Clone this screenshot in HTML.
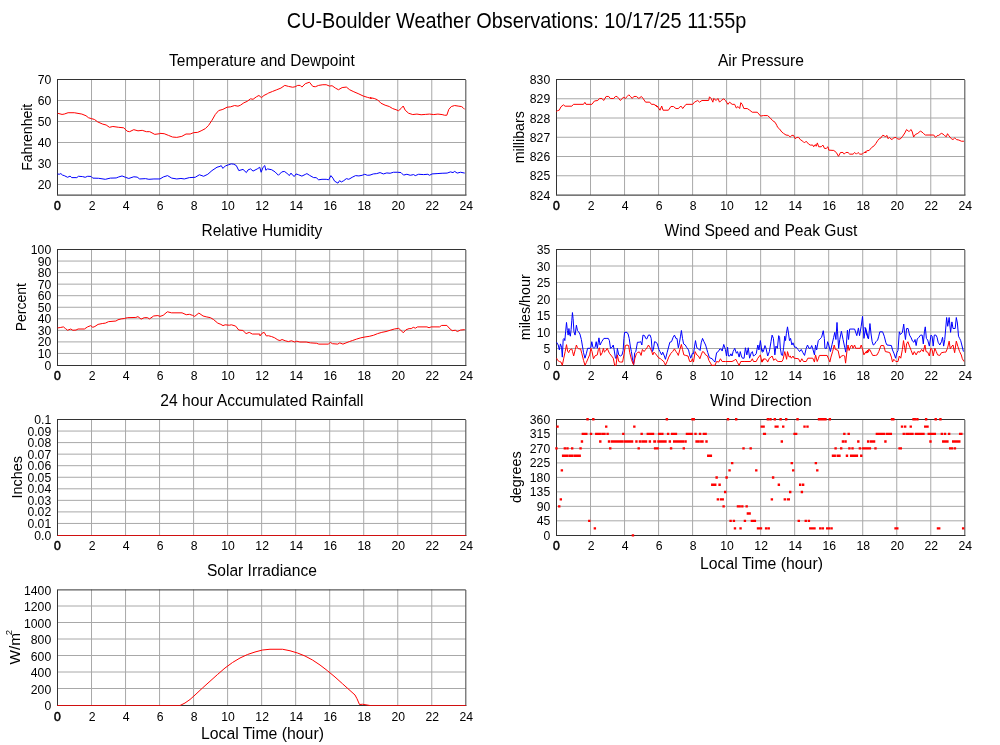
<!DOCTYPE html>
<html><head><meta charset="utf-8"><title>CU-Boulder Weather Observations</title>
<style>
html,body{margin:0;padding:0;background:#fff;}
svg{display:block;will-change:transform;}
text{font-family:"Liberation Sans",Arial,Helvetica,sans-serif;fill:#000;}
.t{font-size:12.2px;}
.st{font-size:15.3px;}
.yl{font-size:15.3px;}
.mt{font-size:19.8px;}
</style></head><body>
<svg width="1000" height="745" viewBox="0 0 1000 745">
<rect width="1000" height="745" fill="#fff"/>
<text transform="translate(516.6 27.6) scale(1 1.16)" text-anchor="middle" class="mt" textLength="459.6" lengthAdjust="spacingAndGlyphs">CU-Boulder Weather Observations: 10/17/25 11:55p</text>
<path d="M91.53 79.5V195M125.55 79.5V195M159.57 79.5V195M193.6 79.5V195M227.62 79.5V195M261.65 79.5V195M295.67 79.5V195M329.7 79.5V195M363.72 79.5V195M397.75 79.5V195M431.77 79.5V195M57.5 184.5H465.8M57.5 163.5H465.8M57.5 142.5H465.8M57.5 121.5H465.8M57.5 100.5H465.8" stroke="#a8a8a8" stroke-width="1" fill="none"/>
<path d="M57 79.5H465.8M57.5 79.5V195.15" stroke="#333" stroke-width="1" fill="none"/>
<path d="M57 195.15H466.5" stroke="#4a4a4a" stroke-width="1.2" fill="none"/>
<path d="M465.8 80V195" stroke="#555" stroke-width="1.1" fill="none"/>
<text x="51.2" y="189" text-anchor="end" class="t">20</text>
<text x="51.2" y="168" text-anchor="end" class="t">30</text>
<text x="51.2" y="147" text-anchor="end" class="t">40</text>
<text x="51.2" y="126" text-anchor="end" class="t">50</text>
<text x="51.2" y="105" text-anchor="end" class="t">60</text>
<text x="51.2" y="84" text-anchor="end" class="t">70</text>
<text x="57.4" y="210.3" text-anchor="middle" class="t" stroke="#000" stroke-width="0.5">0</text>
<text x="92.03" y="210.3" text-anchor="middle" class="t">2</text>
<text x="126.05" y="210.3" text-anchor="middle" class="t">4</text>
<text x="160.07" y="210.3" text-anchor="middle" class="t">6</text>
<text x="194.1" y="210.3" text-anchor="middle" class="t">8</text>
<text x="228.12" y="210.3" text-anchor="middle" class="t">10</text>
<text x="262.15" y="210.3" text-anchor="middle" class="t">12</text>
<text x="296.17" y="210.3" text-anchor="middle" class="t">14</text>
<text x="330.2" y="210.3" text-anchor="middle" class="t">16</text>
<text x="364.22" y="210.3" text-anchor="middle" class="t">18</text>
<text x="398.25" y="210.3" text-anchor="middle" class="t">20</text>
<text x="432.27" y="210.3" text-anchor="middle" class="t">22</text>
<text x="466.3" y="210.3" text-anchor="middle" class="t">24</text>
<text transform="translate(261.9 66.1) scale(1 1.08)" text-anchor="middle" class="st" textLength="185.6" lengthAdjust="spacingAndGlyphs">Temperature and Dewpoint</text>
<text transform="translate(31.6 137.25) rotate(-90)" text-anchor="middle" class="yl" textLength="67" lengthAdjust="spacingAndGlyphs">Fahrenheit</text>
<path d="M57.52 113.23 L62.04 114.41 L64.22 114.07 L68.08 112.73 L74.28 112.73 L81.83 114.07 L86.02 115.75 L88.54 117.76 L91.39 118.6 L94.41 119.44 L97.76 121.95 L102.79 124.13 L106.14 124.97 L109.5 127.32 L112.85 126.48 L118.72 127.32 L123.75 127.82 L127.1 131.17 L129.62 131.68 L133.81 129.66 L138 130.84 L142.2 130.34 L146.39 131.68 L149.74 131.68 L154.77 134.36 L159.8 133.69 L160 133.35 L164.19 133.69 L168.38 135.37 L172.58 137.04 L176.77 137.38 L181.8 136.37 L185.99 134.02 L190.18 134.02 L193.54 132.68 L197.73 132.35 L201.08 130.84 L205.27 128.66 L208.63 125.3 L211.98 120.27 L215.34 114.41 L218.69 110.55 L222.88 109.38 L227.07 107.2 L230.43 106.86 L234.62 105.52 L237.97 106.19 L240.49 105.18 L243.84 102.84 L247.2 101.33 L250.55 98.81 L253.06 99.31 L256.42 96.8 L258.93 95.46 L261.45 97.64 L263.96 95.46 L267.32 93.78 L268.35 93.11 L272.55 91.43 L276.74 89.76 L280.93 88.08 L284.79 85.4 L288.48 86.4 L292.67 87.24 L295.18 86.74 L297.7 85.4 L300.21 85.4 L301.89 87.07 L305.24 83.72 L309.44 82.21 L312.79 86.4 L315.3 86.74 L318.66 85.4 L322.85 84.73 L326.2 84.73 L329.56 86.07 L332.07 85.73 L335.43 88.08 L338.45 89.76 L342.13 87.58 L346.33 87.07 L349.68 89.76 L353.87 91.77 L358.9 93.95 L363.09 95.96 L367.29 97.3 L371.48 98.48 L370 97.64 L374.19 98.48 L377.55 99.82 L380.9 103.17 L385.09 105.18 L389.28 106.52 L392.64 108.54 L395.99 109.71 L398.51 110.72 L401.02 108.54 L403.2 106.02 L405.21 110.21 L408.57 113.23 L412.76 114.57 L416.95 114.07 L421.14 114.74 L425.34 114.41 L429.53 114.07 L433.72 114.57 L437.91 114.07 L442.1 114.57 L444.62 115.24 L446.8 115.24 L448.81 109.38 L451.33 106.52 L454.68 105.52 L458.87 106.19 L461.39 106.52 L463.06 107.7 L464.74 109.38" stroke="#f00" stroke-width="1.0" fill="none" stroke-linejoin="round"/>
<path d="M57.52 173.93 L59.19 174.27 L60.87 173.6 L62.55 175.11 L64.22 175.61 L67.58 177.29 L70.09 176.11 L71.77 177.62 L76.8 177.62 L78.48 176.28 L82.67 176.62 L85.18 177.29 L87.7 176.28 L91.05 176.45 L92.73 178.12 L98.6 178.29 L105.3 179.3 L110.34 178.12 L116.2 177.96 L118.72 176.95 L122.07 175.95 L125.43 177.29 L128.78 178.46 L133.81 176.78 L137.16 177.12 L139.68 178.96 L145.55 178.63 L148.9 179.3 L153.93 178.96 L158.96 178.96 L160 178.96 L163.35 176.95 L167.55 175.61 L171.74 178.12 L176.77 178.96 L180.96 178.46 L184.31 178.96 L189.34 177.62 L195.21 177.29 L199.41 174.77 L203.6 176.28 L207.79 174.27 L211.98 170.58 L217.01 167.23 L220.03 166.39 L221.2 165.55 L222.88 168.4 L225.4 165.88 L228.75 164.71 L231.27 163.87 L233.78 164.21 L236.3 165.55 L238.81 170.58 L243 169.41 L246.36 172.59 L248.03 169.91 L250.55 168.9 L253.06 171.08 L257.26 168.9 L259.77 167.23 L261.11 172.26 L263.12 167.23 L264.8 165.55 L265.84 170.24 L267.52 168.9 L271.71 169.74 L275.06 171.92 L278.41 175.27 L281.77 171.92 L284.28 171.42 L286.8 173.09 L289.31 175.61 L290.99 173.09 L292.67 175.27 L294.34 176.45 L296.02 173.93 L298.54 174.77 L301.89 176.11 L305.24 174.44 L306.92 173.6 L309.44 175.27 L313.63 177.62 L316.14 177.62 L318.66 179.8 L322.01 179.3 L326.2 179.3 L328.72 179.8 L330.9 175.61 L332.91 178.12 L334.59 181.14 L337.94 183.16 L339.62 180.64 L341.3 181.98 L343.81 180.64 L346.33 178.63 L348.84 179.3 L352.2 177.29 L355.55 175.61 L358.9 175.95 L362.26 175.27 L364.77 174.27 L367.29 175.27 L370 175.11 L373.35 173.93 L376.71 173.6 L380.06 172.59 L383.41 173.93 L386.77 172.93 L390.12 173.26 L393.48 172.26 L397.67 172.26 L401.02 172.59 L403.54 175.11 L406.89 174.27 L410.24 175.27 L413.6 174.6 L415.27 175.61 L418.63 174.27 L423.66 174.6 L427.85 174.27 L429.53 175.27 L432.04 173.93 L437.07 173.6 L442.1 173.26 L447.13 173.09 L450.49 171.92 L453 172.59 L454.68 171.42 L457.2 173.09 L460.55 172.26 L464.74 173.09" stroke="#00f" stroke-width="1.0" fill="none" stroke-linejoin="round"/>
<path d="M91.53 249.5V365M125.55 249.5V365M159.57 249.5V365M193.6 249.5V365M227.62 249.5V365M261.65 249.5V365M295.67 249.5V365M329.7 249.5V365M363.72 249.5V365M397.75 249.5V365M431.77 249.5V365M57.5 353.45H465.8M57.5 341.9H465.8M57.5 330.35H465.8M57.5 318.8H465.8M57.5 307.25H465.8M57.5 295.7H465.8M57.5 284.15H465.8M57.5 272.6H465.8M57.5 261.05H465.8" stroke="#a8a8a8" stroke-width="1" fill="none"/>
<path d="M57 249.5H465.8M57.5 249.5V365.5" stroke="#333" stroke-width="1" fill="none"/>
<path d="M57 365.5H466.5" stroke="#333" stroke-width="1" fill="none"/>
<path d="M465.8 250V365" stroke="#555" stroke-width="1.1" fill="none"/>
<text x="51.2" y="369.5" text-anchor="end" class="t">0</text>
<text x="51.2" y="357.95" text-anchor="end" class="t">10</text>
<text x="51.2" y="346.4" text-anchor="end" class="t">20</text>
<text x="51.2" y="334.85" text-anchor="end" class="t">30</text>
<text x="51.2" y="323.3" text-anchor="end" class="t">40</text>
<text x="51.2" y="311.75" text-anchor="end" class="t">50</text>
<text x="51.2" y="300.2" text-anchor="end" class="t">60</text>
<text x="51.2" y="288.65" text-anchor="end" class="t">70</text>
<text x="51.2" y="277.1" text-anchor="end" class="t">80</text>
<text x="51.2" y="265.55" text-anchor="end" class="t">90</text>
<text x="51.2" y="254" text-anchor="end" class="t">100</text>
<text x="57.4" y="380.3" text-anchor="middle" class="t" stroke="#000" stroke-width="0.5">0</text>
<text x="92.03" y="380.3" text-anchor="middle" class="t">2</text>
<text x="126.05" y="380.3" text-anchor="middle" class="t">4</text>
<text x="160.07" y="380.3" text-anchor="middle" class="t">6</text>
<text x="194.1" y="380.3" text-anchor="middle" class="t">8</text>
<text x="228.12" y="380.3" text-anchor="middle" class="t">10</text>
<text x="262.15" y="380.3" text-anchor="middle" class="t">12</text>
<text x="296.17" y="380.3" text-anchor="middle" class="t">14</text>
<text x="330.2" y="380.3" text-anchor="middle" class="t">16</text>
<text x="364.22" y="380.3" text-anchor="middle" class="t">18</text>
<text x="398.25" y="380.3" text-anchor="middle" class="t">20</text>
<text x="432.27" y="380.3" text-anchor="middle" class="t">22</text>
<text x="466.3" y="380.3" text-anchor="middle" class="t">24</text>
<text transform="translate(261.9 236.1) scale(1 1.08)" text-anchor="middle" class="st" textLength="120.8" lengthAdjust="spacingAndGlyphs">Relative Humidity</text>
<text transform="translate(26 307.25) rotate(-90)" text-anchor="middle" class="yl" textLength="48.2" lengthAdjust="spacingAndGlyphs">Percent</text>
<path d="M57.52 327.95 L60.25 327.53 L63.4 326.9 L65.5 328.58 L67.6 330.26 L70.75 329 L72.85 330.26 L76 330.05 L78.1 329 L84.4 329 L87.55 326.9 L90.7 325.64 L92.8 327.32 L94.9 326.48 L98.05 324.38 L102.25 323.54 L105.4 323.12 L108.55 321.65 L115.9 321.02 L118 319.76 L121.15 318.92 L124.3 318.5 L127.45 317.66 L135.85 317.45 L137.95 316.61 L141.1 319.13 L144.25 317.66 L147.4 317.66 L149.5 318.92 L153.7 315.98 L157.9 315.56 L160 316.4 L163.15 315.35 L167.35 311.78 L171.55 312.83 L182.05 312.83 L186.25 314.72 L189.4 314.3 L192.55 315.35 L194.65 316.4 L198.85 313.04 L203.05 315.98 L206.2 316.82 L210.4 317.66 L213.55 319.55 L217.75 323.12 L220.9 324.38 L223 325.64 L225.1 324.8 L229.3 325.22 L231.4 324.8 L235.6 326.06 L238.75 330.05 L242.95 330.47 L246.1 333.62 L249.25 332.36 L252.4 334.04 L259.75 334.04 L260 335.93 L262.1 333.2 L264.2 332.36 L266.3 335.93 L268.4 335.72 L271.55 336.56 L274.7 337.82 L277.85 339.92 L279.95 340.55 L282.05 339.5 L285.2 340.76 L288.35 341.6 L291.5 340.76 L294.65 342.02 L296.75 341.18 L299.9 342.02 L306.2 342.02 L310.4 342.86 L316.7 343.28 L318.8 344.12 L328.25 344.12 L330.35 342.44 L332.45 343.7 L337.7 344.12 L339.8 342.86 L342.95 344.12 L345.05 343.28 L349.25 341.6 L352.4 340.55 L356.6 339.08 L360.8 337.82 L365 336.98 L369.2 336.35 L373.4 335.3 L377.6 333.62 L381.8 332.36 L386 331.52 L390.2 330.26 L394.4 329 L398.6 328.37 L400.7 330.05 L403.22 332.78 L405.95 329.84 L409.1 328.58 L411.2 328.58 L413.3 327.32 L415.4 328.16 L417.5 326.9 L426.95 326.9 L429.05 327.74 L431.15 326.9 L439.55 326.9 L441.65 325.43 L446.9 325.43 L449 327.95 L452.15 330.68 L455.3 330.26 L457.4 331.52 L460.55 330.05 L464.75 329.63" stroke="#f00" stroke-width="1.0" fill="none" stroke-linejoin="round"/>
<path d="M91.53 419.5V535M125.55 419.5V535M159.57 419.5V535M193.6 419.5V535M227.62 419.5V535M261.65 419.5V535M295.67 419.5V535M329.7 419.5V535M363.72 419.5V535M397.75 419.5V535M431.77 419.5V535M57.5 523.45H465.8M57.5 511.9H465.8M57.5 500.35H465.8M57.5 488.8H465.8M57.5 477.25H465.8M57.5 465.7H465.8M57.5 454.15H465.8M57.5 442.6H465.8M57.5 431.05H465.8" stroke="#a8a8a8" stroke-width="1" fill="none"/>
<path d="M57 419.5H465.8M57.5 419.5V535.5" stroke="#333" stroke-width="1" fill="none"/>
<path d="M57 535.5H466.5" stroke="#333" stroke-width="1" fill="none"/>
<path d="M465.8 420V535" stroke="#555" stroke-width="1.1" fill="none"/>
<text x="51.2" y="539.5" text-anchor="end" class="t">0.0</text>
<text x="51.2" y="527.95" text-anchor="end" class="t">0.01</text>
<text x="51.2" y="516.4" text-anchor="end" class="t">0.02</text>
<text x="51.2" y="504.85" text-anchor="end" class="t">0.03</text>
<text x="51.2" y="493.3" text-anchor="end" class="t">0.04</text>
<text x="51.2" y="481.75" text-anchor="end" class="t">0.05</text>
<text x="51.2" y="470.2" text-anchor="end" class="t">0.06</text>
<text x="51.2" y="458.65" text-anchor="end" class="t">0.07</text>
<text x="51.2" y="447.1" text-anchor="end" class="t">0.08</text>
<text x="51.2" y="435.55" text-anchor="end" class="t">0.09</text>
<text x="51.2" y="424" text-anchor="end" class="t">0.1</text>
<text x="57.4" y="550.3" text-anchor="middle" class="t" stroke="#000" stroke-width="0.5">0</text>
<text x="92.03" y="550.3" text-anchor="middle" class="t">2</text>
<text x="126.05" y="550.3" text-anchor="middle" class="t">4</text>
<text x="160.07" y="550.3" text-anchor="middle" class="t">6</text>
<text x="194.1" y="550.3" text-anchor="middle" class="t">8</text>
<text x="228.12" y="550.3" text-anchor="middle" class="t">10</text>
<text x="262.15" y="550.3" text-anchor="middle" class="t">12</text>
<text x="296.17" y="550.3" text-anchor="middle" class="t">14</text>
<text x="330.2" y="550.3" text-anchor="middle" class="t">16</text>
<text x="364.22" y="550.3" text-anchor="middle" class="t">18</text>
<text x="398.25" y="550.3" text-anchor="middle" class="t">20</text>
<text x="432.27" y="550.3" text-anchor="middle" class="t">22</text>
<text x="466.3" y="550.3" text-anchor="middle" class="t">24</text>
<text transform="translate(261.9 406.1) scale(1 1.08)" text-anchor="middle" class="st" textLength="203.2" lengthAdjust="spacingAndGlyphs">24 hour Accumulated Rainfall</text>
<text transform="translate(22.3 477.25) rotate(-90)" text-anchor="middle" class="yl" textLength="42.5" lengthAdjust="spacingAndGlyphs">Inches</text>
<path d="M57.5 535.5H465.8" stroke="#d01010" stroke-width="1"/>
<path d="M91.53 589.5V705M125.55 589.5V705M159.57 589.5V705M193.6 589.5V705M227.62 589.5V705M261.65 589.5V705M295.67 589.5V705M329.7 589.5V705M363.72 589.5V705M397.75 589.5V705M431.77 589.5V705M57.5 688.5H465.8M57.5 672H465.8M57.5 655.5H465.8M57.5 639H465.8M57.5 622.5H465.8M57.5 606H465.8" stroke="#a8a8a8" stroke-width="1" fill="none"/>
<path d="M57 589.9H465.8M57.5 589.9V705.5" stroke="#333" stroke-width="1" fill="none"/>
<path d="M57 705.5H466.5" stroke="#333" stroke-width="1" fill="none"/>
<path d="M465.8 590V705" stroke="#555" stroke-width="1.1" fill="none"/>
<text x="51.2" y="710.3" text-anchor="end" class="t">0</text>
<text x="51.2" y="693.8" text-anchor="end" class="t">200</text>
<text x="51.2" y="677.3" text-anchor="end" class="t">400</text>
<text x="51.2" y="660.8" text-anchor="end" class="t">600</text>
<text x="51.2" y="644.3" text-anchor="end" class="t">800</text>
<text x="51.2" y="627.8" text-anchor="end" class="t">1000</text>
<text x="51.2" y="611.3" text-anchor="end" class="t">1200</text>
<text x="51.2" y="594.8" text-anchor="end" class="t">1400</text>
<text x="57.4" y="721.3" text-anchor="middle" class="t" stroke="#000" stroke-width="0.5">0</text>
<text x="92.03" y="721.3" text-anchor="middle" class="t">2</text>
<text x="126.05" y="721.3" text-anchor="middle" class="t">4</text>
<text x="160.07" y="721.3" text-anchor="middle" class="t">6</text>
<text x="194.1" y="721.3" text-anchor="middle" class="t">8</text>
<text x="228.12" y="721.3" text-anchor="middle" class="t">10</text>
<text x="262.15" y="721.3" text-anchor="middle" class="t">12</text>
<text x="296.17" y="721.3" text-anchor="middle" class="t">14</text>
<text x="330.2" y="721.3" text-anchor="middle" class="t">16</text>
<text x="364.22" y="721.3" text-anchor="middle" class="t">18</text>
<text x="398.25" y="721.3" text-anchor="middle" class="t">20</text>
<text x="432.27" y="721.3" text-anchor="middle" class="t">22</text>
<text x="466.3" y="721.3" text-anchor="middle" class="t">24</text>
<text transform="translate(261.9 576.1) scale(1 1.08)" text-anchor="middle" class="st" textLength="110" lengthAdjust="spacingAndGlyphs">Solar Irradiance</text>
<text transform="translate(19.9 647.25) rotate(-90)" text-anchor="middle" class="yl">W/m<tspan dx="-2.2" dy="-8.2" font-size="9.6">2</tspan></text>
<text transform="translate(262.4 738.7) scale(1 1.08)" text-anchor="middle" class="st" textLength="123" lengthAdjust="spacingAndGlyphs">Local Time (hour)</text>
<path d="M57.5 705.5 L180 705.5 L185 703 L190 699.5 L195 695 L202.5 688 L210 681.25 L217.5 674.5 L225 668 L232.5 662.5 L240 658 L247.5 654.5 L255 652 L262.5 650 L270 649.25 L282.5 649.25 L290 650.75 L297.5 653 L305 656 L312.5 660 L320 665 L327.5 670.75 L335 677 L342.5 683.75 L350 690.5 L355 695 L357 698.75 L359.5 704.5 L362.5 704.25 L370 705.5 L465.5 705.5" stroke="#f00" stroke-width="1.0" fill="none" stroke-linejoin="round"/>
<path d="M57.5 705.5H180M370 705.5H465.8" stroke="#d01010" stroke-width="1"/>
<path d="M590.52 79.5V195M624.55 79.5V195M658.58 79.5V195M692.6 79.5V195M726.62 79.5V195M760.65 79.5V195M794.67 79.5V195M828.7 79.5V195M862.72 79.5V195M896.75 79.5V195M930.77 79.5V195M556.5 175.75H964.8M556.5 156.5H964.8M556.5 137.25H964.8M556.5 118H964.8M556.5 98.75H964.8" stroke="#a8a8a8" stroke-width="1" fill="none"/>
<path d="M556 79.5H964.8M556.5 79.5V195.15" stroke="#333" stroke-width="1" fill="none"/>
<path d="M556 195.15H965.5" stroke="#4a4a4a" stroke-width="1.2" fill="none"/>
<path d="M964.8 80V195" stroke="#555" stroke-width="1.1" fill="none"/>
<text x="550.2" y="199.5" text-anchor="end" class="t">824</text>
<text x="550.2" y="180.25" text-anchor="end" class="t">825</text>
<text x="550.2" y="161" text-anchor="end" class="t">826</text>
<text x="550.2" y="141.75" text-anchor="end" class="t">827</text>
<text x="550.2" y="122.5" text-anchor="end" class="t">828</text>
<text x="550.2" y="103.25" text-anchor="end" class="t">829</text>
<text x="550.2" y="84" text-anchor="end" class="t">830</text>
<text x="556.4" y="210.3" text-anchor="middle" class="t" stroke="#000" stroke-width="0.5">0</text>
<text x="591.02" y="210.3" text-anchor="middle" class="t">2</text>
<text x="625.05" y="210.3" text-anchor="middle" class="t">4</text>
<text x="659.08" y="210.3" text-anchor="middle" class="t">6</text>
<text x="693.1" y="210.3" text-anchor="middle" class="t">8</text>
<text x="727.12" y="210.3" text-anchor="middle" class="t">10</text>
<text x="761.15" y="210.3" text-anchor="middle" class="t">12</text>
<text x="795.17" y="210.3" text-anchor="middle" class="t">14</text>
<text x="829.2" y="210.3" text-anchor="middle" class="t">16</text>
<text x="863.22" y="210.3" text-anchor="middle" class="t">18</text>
<text x="897.25" y="210.3" text-anchor="middle" class="t">20</text>
<text x="931.27" y="210.3" text-anchor="middle" class="t">22</text>
<text x="965.3" y="210.3" text-anchor="middle" class="t">24</text>
<text transform="translate(760.9 66.1) scale(1 1.08)" text-anchor="middle" class="st" textLength="86" lengthAdjust="spacingAndGlyphs">Air Pressure</text>
<text transform="translate(524.2 137.25) rotate(-90)" text-anchor="middle" class="yl" textLength="52.2" lengthAdjust="spacingAndGlyphs">millibars</text>
<path d="M556.37 111.89 L557.55 110.55 L559.22 110.21 L560.9 106.86 L563.41 104.85 L565.09 106.19 L571.8 106.19 L573.48 104.34 L583.54 104.34 L584.88 102.33 L586.05 104.34 L591.92 104.34 L594.44 100.99 L597.79 100.49 L599.47 98.48 L601.98 98.48 L603.66 100.49 L606.17 96.46 L608.69 96.46 L610.37 98.48 L613.72 98.48 L615.4 96.46 L617.07 96.46 L618.75 98.48 L620.43 100.49 L622.1 98.48 L623.78 97.3 L625.46 98.48 L627.13 96.46 L628.81 94.79 L630.49 96.46 L632.16 98.48 L633.84 96.46 L636.36 96.46 L638.87 98.48 L641.39 96.46 L643.06 98.48 L645.58 102.16 L649.77 102.16 L651.45 104.34 L653.96 104.34 L656.48 106.19 L658.16 106.86 L655 105.18 L656.68 106.02 L658.35 107.7 L660.03 110.21 L661.71 106.02 L663.05 110.21 L668.41 110.21 L670.93 106.52 L673.45 106.52 L675.96 108.54 L678.48 108.54 L680.15 106.52 L681.49 106.52 L682.67 108.54 L686.02 104.34 L692.73 104.34 L694.41 102.16 L697.76 100.49 L699.44 102.16 L701.95 100.49 L708.66 100.49 L709.5 96.8 L711.17 98.48 L712.85 102.16 L713.69 98.48 L716.2 100.49 L717.88 98.48 L719.56 102.16 L721.23 100.49 L723.75 98.81 L725.43 100.49 L727.94 104.34 L729.62 102.16 L732.13 104.34 L734.65 104.34 L736.33 108.03 L738 106.52 L739.68 108.54 L740.85 102.67 L742.2 104.34 L743.87 108.54 L747.23 108.54 L749.74 110.21 L752.26 112.23 L757.29 112.23 L760.64 116.08 L763.35 115.58 L767.55 115.58 L770.06 117.76 L772.58 120.61 L775.09 122.29 L776.77 125.3 L777.61 127.32 L779.28 128.66 L781.8 132.01 L783.48 133.35 L785.99 135.03 L788.51 135.37 L790.18 137.04 L791.86 135.37 L793.54 135.37 L795.21 138.72 L796.89 137.38 L798.57 137.38 L800.24 139.56 L802.76 141.23 L804.44 142.91 L806.11 141.23 L808.63 144.09 L810.3 145.09 L812.82 145.09 L813.66 146.77 L815.34 144.59 L816.17 146.27 L817.35 142.91 L818.69 146.77 L821.2 146.77 L822.88 145.09 L824.56 148.45 L826.23 148.45 L827.91 146.77 L828.75 150.12 L833.78 150.46 L836.3 152.47 L838.48 156.33 L840.49 152.47 L843 152.47 L844.18 154.15 L845.85 152.47 L848.03 152.47 L849.71 154.15 L853.06 154.15 L854.74 152.47 L856.42 154.15 L858.09 152.47 L859.77 154.15 L862.29 154.15 L863.96 152.47 L866.48 152.13 L865 152.47 L866.68 150.79 L869.19 150.46 L871.71 147.44 L874.22 145.76 L875.9 143.41 L877.58 140.73 L879.25 138.72 L880.93 137.88 L882.61 135.37 L884.28 135.7 L885.46 137.04 L886.8 135.37 L888.14 138.72 L889.31 137.38 L890.99 139.05 L892.16 139.56 L893.51 137.88 L896.02 137.38 L897.7 139.05 L900.21 139.05 L902.73 136.2 L904.91 132.85 L906.59 129.5 L908.26 131.17 L909.44 131.17 L911.11 129.5 L912.29 132.01 L913.63 137.04 L915.3 134.53 L917.82 133.35 L920.34 131.17 L922.01 132.01 L923.69 133.69 L925.37 135.03 L933.75 135.03 L935.43 137.38 L937.1 135.7 L938.78 135.37 L941.3 133.35 L942.97 134.02 L944.65 135.7 L946.33 136.71 L947.5 133.69 L948.84 135.7 L951.36 138.72 L953.03 139.56 L954.71 137.88 L956.39 139.56 L958.9 140.06 L961.42 141.23 L963.93 141.23" stroke="#f00" stroke-width="1.0" fill="none" stroke-linejoin="round"/>
<path d="M590.52 249.5V365M624.55 249.5V365M658.58 249.5V365M692.6 249.5V365M726.62 249.5V365M760.65 249.5V365M794.67 249.5V365M828.7 249.5V365M862.72 249.5V365M896.75 249.5V365M930.77 249.5V365M556.5 348.5H964.8M556.5 332H964.8M556.5 315.5H964.8M556.5 299H964.8M556.5 282.5H964.8M556.5 266H964.8" stroke="#a8a8a8" stroke-width="1" fill="none"/>
<path d="M556 249.5H964.8M556.5 249.5V365.5" stroke="#333" stroke-width="1" fill="none"/>
<path d="M556 365.5H965.5" stroke="#333" stroke-width="1" fill="none"/>
<path d="M964.8 250V365" stroke="#555" stroke-width="1.1" fill="none"/>
<text x="550.2" y="369.5" text-anchor="end" class="t">0</text>
<text x="550.2" y="353" text-anchor="end" class="t">5</text>
<text x="550.2" y="336.5" text-anchor="end" class="t">10</text>
<text x="550.2" y="320" text-anchor="end" class="t">15</text>
<text x="550.2" y="303.5" text-anchor="end" class="t">20</text>
<text x="550.2" y="287" text-anchor="end" class="t">25</text>
<text x="550.2" y="270.5" text-anchor="end" class="t">30</text>
<text x="550.2" y="254" text-anchor="end" class="t">35</text>
<text x="556.4" y="380.3" text-anchor="middle" class="t" stroke="#000" stroke-width="0.5">0</text>
<text x="591.02" y="380.3" text-anchor="middle" class="t">2</text>
<text x="625.05" y="380.3" text-anchor="middle" class="t">4</text>
<text x="659.08" y="380.3" text-anchor="middle" class="t">6</text>
<text x="693.1" y="380.3" text-anchor="middle" class="t">8</text>
<text x="727.12" y="380.3" text-anchor="middle" class="t">10</text>
<text x="761.15" y="380.3" text-anchor="middle" class="t">12</text>
<text x="795.17" y="380.3" text-anchor="middle" class="t">14</text>
<text x="829.2" y="380.3" text-anchor="middle" class="t">16</text>
<text x="863.22" y="380.3" text-anchor="middle" class="t">18</text>
<text x="897.25" y="380.3" text-anchor="middle" class="t">20</text>
<text x="931.27" y="380.3" text-anchor="middle" class="t">22</text>
<text x="965.3" y="380.3" text-anchor="middle" class="t">24</text>
<text transform="translate(760.9 236.1) scale(1 1.08)" text-anchor="middle" class="st" textLength="192.9" lengthAdjust="spacingAndGlyphs">Wind Speed and Peak Gust</text>
<text transform="translate(530.2 307.25) rotate(-90)" text-anchor="middle" class="yl" textLength="66.1" lengthAdjust="spacingAndGlyphs">miles/hour</text>
<path d="M556.6 342.25 L558.25 345 L559.35 349.95 L560.45 343.9 L561.55 347.2 L562.32 357.1 L563.2 339.5 L564.08 338.4 L564.85 340.6 L565.62 331.8 L566.5 322.45 L567.38 330.7 L568.15 335.1 L568.92 328.5 L569.58 334 L570.35 336.2 L571.12 329.6 L571.78 320.8 L572.44 312.55 L573.1 318.6 L573.98 331.8 L575.08 335.1 L576.4 325.2 L577.5 330.7 L578.6 331.8 L579.92 334 L581.35 339.5 L582.45 346.1 L583.55 352.7 L584.98 358.2 L586.3 353.8 L587.62 348.3 L590.15 348.3 L590.92 347.2 L591.8 341.7 L592.9 347.2 L594 348.3 L595.1 347.2 L596.2 341.7 L597.3 348.3 L598.18 342.8 L598.95 337.85 L600.05 345 L601.7 341.7 L603.9 338.4 L606.1 338.4 L608.3 338.4 L609.4 340.6 L610.5 348.3 L612.15 347.2 L613.25 345 L614.35 351.05 L615.45 358.2 L616.55 358.2 L617.32 348.3 L618.75 354.9 L620.4 356 L622.05 354.9 L623.15 350.5 L623.92 338.4 L624.58 332.35 L627 332.35 L628.1 334 L629.2 338.4 L630.3 346.1 L631.4 351.6 L632.72 360.4 L633.6 364.8 L634.7 352.7 L635.8 351.6 L637.45 342.25 L639.1 342.25 L640.75 341.7 L641.85 345 L642.95 335.1 L644.6 335.65 L645.7 338.4 L646.8 338.95 L648.45 335.1 L650.1 335.1 L651.2 338.4 L652.3 351.6 L653.4 349.4 L654.5 341.7 L656.15 342.25 L657.25 343.9 L658.9 349.4 L659.95 351.6 L661.6 354.9 L662.7 352.15 L664.35 356 L665.45 359.3 L667.1 352.7 L669.85 342.25 L671.5 341.7 L673.15 337.3 L674.47 335.1 L675.9 338.4 L677 338.4 L678.32 347.75 L679.42 342.8 L680.52 336.2 L681.4 330.48 L682.5 338.4 L683.6 343.9 L685.25 345 L686.9 347.75 L688.55 349.95 L689.65 354.9 L690.75 358.2 L692.4 353.25 L693.5 353.8 L694.6 346.1 L695.48 340.6 L696.8 347.75 L698.45 348.85 L700.1 350.5 L701.2 342.8 L702.52 338.4 L703.95 341.7 L705.6 345 L707.8 352.7 L709.45 357.65 L712.2 358.75 L713.3 360.4 L714.95 362.05 L716.6 352.7 L718.25 351.6 L719.9 348.85 L721.55 349.4 L722.1 351.05 L723.75 344.45 L725.4 349.4 L726.5 356 L727.6 347.2 L728.48 356 L729.8 356 L730.9 353.8 L732 356 L733.1 351.6 L734.75 348.3 L736.4 353.25 L737.5 351.6 L739.15 357.1 L740.25 351.6 L741.35 356 L742.45 358.2 L744.1 358.2 L745.42 347.75 L746.85 354.9 L748.28 347.75 L749.6 358.2 L751.25 352.7 L752.35 351.6 L753.45 356 L754.55 355.45 L756.2 353.8 L757.85 345 L758.95 349.95 L760.38 340.6 L761.7 349.95 L763.35 351.05 L761.1 348.3 L762.2 352.15 L763.3 351.6 L764.95 345.55 L766.05 348.3 L767.7 356 L769.35 351.6 L771 341.7 L772.1 335.1 L773.42 338.4 L774.85 354.9 L775.95 346.1 L777.38 348.3 L778.7 335.65 L779.58 337.3 L780.35 348.3 L781.45 354.9 L782.55 355.45 L783.65 347.2 L784.75 336.2 L785.52 340.6 L786.4 333.45 L787.5 326.85 L788.6 334 L789.48 340.6 L790.58 338.4 L791.9 345 L793 342.8 L794.65 347.2 L796.3 347.2 L797.95 349.4 L799.6 351.6 L801.25 349.4 L802.9 352.7 L804.55 355.45 L806.2 348.3 L807.52 345 L808.95 348.3 L810.6 348.3 L811.7 345.55 L812.8 348.85 L814.45 354.9 L815.55 345 L816.65 349.95 L818.3 340.6 L819.95 338.95 L821.6 337.3 L823.25 330.7 L824.35 338.4 L824.9 348.3 L826.55 348.3 L827.65 341.7 L828.75 345 L830.4 351.6 L832.05 344.45 L833.7 337.3 L834.8 332.35 L835.9 339.5 L837 322.45 L837.55 331.8 L838.65 348.3 L839.75 339.5 L841.4 331.25 L843.05 339.5 L844.7 347.2 L845.8 352.15 L847.45 330.15 L848.55 339.5 L849.65 329.05 L854.6 329.05 L856.8 335.65 L858.45 327.95 L859.55 335.65 L861.2 326.3 L862.52 316.4 L863.95 338.4 L865.6 327.95 L867.25 334.55 L868.35 338.4 L865 327.4 L866.1 332.9 L867.75 337.3 L868.52 338.95 L869.95 323.55 L871.05 334 L872.15 341.7 L873.25 345 L874.35 344.45 L876 341.7 L877.65 340.05 L878.75 336.2 L879.85 331.8 L882.6 331.8 L884.25 336.2 L885.9 342.8 L887 345 L891.4 345.55 L892.5 349.95 L894.15 353.8 L895.58 358.2 L896.9 352.7 L898 350.5 L899.32 331.8 L900.42 334.55 L902.4 332.35 L903.72 324.1 L904.6 332.9 L905.48 339.5 L906.58 328.5 L908.12 328.5 L909.55 335.1 L911.2 337.85 L912.52 341.15 L913.95 342.25 L915.05 339.5 L916.15 345.55 L917.25 338.95 L918.9 337.3 L920.55 335.1 L922.2 335.1 L923.3 343.9 L924.4 331.8 L925.28 326.85 L926.38 338.4 L927.7 340.05 L929.35 346.1 L931 335.1 L932.1 336.2 L933.2 346.1 L934.3 335.1 L935.95 335.1 L937.05 337.3 L938.15 342.25 L939.8 345 L941.45 341.7 L942.55 337.3 L943.65 346.1 L944.75 339.5 L946.18 323 L946.62 317.5 L947.72 326.3 L949.15 317.5 L950.58 332.35 L951.9 321.9 L953 328.5 L955.2 328.5 L956.3 317.5 L957.4 323 L958.5 336.2 L959.6 338.4 L960.7 340.6 L961.8 345 L963.45 351.6" stroke="#00f" stroke-width="1.0" fill="none" stroke-linejoin="round"/>
<path d="M556.6 358.2 L557.7 360.4 L559.35 361.5 L561 362.05 L562.32 365.35 L563.75 358.2 L565.18 351.6 L566.5 344.67 L567.6 351.05 L568.7 352.7 L569.8 349.95 L570.9 349.4 L571.78 348.85 L572.55 351.6 L573.65 356 L575.3 349.4 L576.4 345 L577.5 347.75 L578.6 348.85 L580.58 348.85 L581.9 353.8 L583.55 360.4 L584.98 365.35 L586.3 362.6 L587.95 358.75 L589.6 354.9 L590.92 348.3 L592.02 351.6 L593.45 358.75 L595.1 355.78 L597.3 354.9 L598.4 349.4 L599.5 347.75 L600.6 355.45 L602.25 352.7 L603.35 348.3 L604.45 352.15 L605.55 351.05 L607.2 348.3 L609.4 353.25 L611.6 356 L613.25 358.2 L614.68 365.35 L616 365.35 L617.32 354.9 L618.75 361.5 L620.4 362.05 L622.6 362.05 L623.92 354.9 L625.35 345.55 L627 345 L628.65 345.55 L629.75 352.7 L631.4 359.3 L632.72 363.15 L633.6 364.8 L634.92 358.2 L636.35 353.8 L638 352.15 L639.65 352.15 L641.08 355.45 L642.4 349.4 L644.05 351.6 L645.7 349.4 L647.35 347.2 L648.45 345 L650.1 347.75 L651.75 351.6 L652.85 354.9 L653.95 352.15 L655.6 353.8 L657.25 356 L658.9 358.2 L659.95 358.2 L661.6 359.85 L663.25 360.95 L664.35 362.6 L665.45 365.13 L667.1 361.5 L668.75 357.1 L670.95 353.25 L672.6 351.6 L674.47 348.85 L675.9 351.6 L677 352.7 L678.32 355.45 L679.75 349.95 L681.4 344.45 L682.5 349.4 L683.82 354.9 L685.8 355.45 L688 356 L689.65 361.5 L691.3 361.5 L692.4 358.75 L693.5 362.05 L695.15 351.6 L696.8 354.9 L698.45 356 L699.88 358.75 L701.2 354.9 L702.52 351.6 L703.95 352.15 L705.6 354.9 L707.58 356 L708.9 360.4 L710.55 363.15 L711.65 365.35 L714.95 365.35 L716.6 361.5 L718.8 362.05 L720.45 358.75 L722.1 361.5 L725.4 361.5 L732 361.5 L734.2 360.4 L735.85 359.3 L737.5 362.6 L739.15 365.35 L740.8 361.5 L744.1 361.5 L750.7 361.5 L752.35 358.75 L753.45 361.5 L756.2 361.5 L757.85 358.2 L760.38 354.9 L761.7 361.5 L763.9 358.75 L761.1 361.5 L762.2 362.05 L763.85 359.3 L764.95 358.75 L766.6 359.85 L767.7 362.05 L769.35 358.2 L771 357.1 L772.1 356 L773.75 360.4 L775.4 358.75 L777.05 360.95 L778.15 361.5 L782 361.5 L783.1 359.3 L784.75 351.6 L785.85 356 L786.62 359.3 L787.5 351.6 L789.15 357.1 L790.25 356 L791.35 358.2 L793 356 L794.1 358.2 L798.5 358.75 L800.15 362.05 L801.8 358.75 L803.45 361.5 L806.2 361.5 L807.85 358.2 L812.8 358.2 L814.45 362.05 L815.55 354.9 L817.2 361.5 L818.3 358.75 L819.4 355.45 L827.1 355.45 L828.75 359.3 L829.85 362.05 L830.95 357.1 L832.6 351.6 L834.25 345 L835.35 349.4 L837 349.95 L838.1 350.5 L839.75 358.2 L841.4 356 L843.6 355.45 L844.7 356 L845.58 363.15 L846.9 351.6 L848 345 L849.1 350.5 L850.75 346.1 L851.85 345 L852.95 348.3 L854.6 345 L855.7 348.3 L860.1 348.3 L861.2 345 L862.3 348.3 L863.95 354.9 L865.05 352.7 L867.25 352.15 L868.9 349.4 L865 352.7 L866.65 352.7 L868.3 352.15 L869.62 349.4 L871.05 352.15 L872.7 355.45 L875.45 355.45 L877.1 354.9 L878.75 351.6 L880.95 345.55 L883.7 345.55 L885.35 351.6 L888.1 352.15 L889.75 352.7 L891.4 357.1 L892.5 362.05 L893.82 359.3 L895.8 361.5 L898 361.5 L899.32 356 L900.75 358.2 L902.4 349.4 L903.5 340.6 L904.6 347.2 L905.48 352.7 L906.58 343.9 L907.9 341.7 L909 345 L911.2 350.5 L912.85 354.9 L914.28 351.6 L916.15 354.9 L917.8 351.6 L920 352.15 L921.65 349.4 L923.3 351.6 L924.95 345 L926.05 351.6 L927.7 352.15 L929.35 356 L930.78 348.3 L932.1 349.4 L933.2 356 L934.85 348.3 L936.28 351.6 L937.6 354.9 L939.8 355.45 L941.45 352.7 L944.2 352.15 L945.85 352.15 L947.5 348.3 L949.15 341.15 L950.25 348.85 L951.9 346.1 L953 345 L954.65 352.7 L956.3 341.15 L957.95 346.65 L959.6 351.6 L961.25 354.9 L962.35 358.75 L964 361.5" stroke="#f00" stroke-width="1.0" fill="none" stroke-linejoin="round"/>
<path d="M590.52 419.5V535M624.55 419.5V535M658.58 419.5V535M692.6 419.5V535M726.62 419.5V535M760.65 419.5V535M794.67 419.5V535M828.7 419.5V535M862.72 419.5V535M896.75 419.5V535M930.77 419.5V535M556.5 520.82H964.8M556.5 506.35H964.8M556.5 491.87H964.8M556.5 477.4H964.8M556.5 462.92H964.8M556.5 448.45H964.8M556.5 433.97H964.8" stroke="#a8a8a8" stroke-width="1" fill="none"/>
<path d="M556 419.5H964.8M556.5 419.5V535.5" stroke="#333" stroke-width="1" fill="none"/>
<path d="M556 535.5H965.5" stroke="#333" stroke-width="1" fill="none"/>
<path d="M964.8 420V535" stroke="#555" stroke-width="1.1" fill="none"/>
<text x="550.2" y="539.8" text-anchor="end" class="t">0</text>
<text x="550.2" y="525.32" text-anchor="end" class="t">45</text>
<text x="550.2" y="510.85" text-anchor="end" class="t">90</text>
<text x="550.2" y="496.37" text-anchor="end" class="t">135</text>
<text x="550.2" y="481.9" text-anchor="end" class="t">180</text>
<text x="550.2" y="467.42" text-anchor="end" class="t">225</text>
<text x="550.2" y="452.95" text-anchor="end" class="t">270</text>
<text x="550.2" y="438.47" text-anchor="end" class="t">315</text>
<text x="550.2" y="424" text-anchor="end" class="t">360</text>
<text x="556.4" y="550.3" text-anchor="middle" class="t" stroke="#000" stroke-width="0.5">0</text>
<text x="591.02" y="550.3" text-anchor="middle" class="t">2</text>
<text x="625.05" y="550.3" text-anchor="middle" class="t">4</text>
<text x="659.08" y="550.3" text-anchor="middle" class="t">6</text>
<text x="693.1" y="550.3" text-anchor="middle" class="t">8</text>
<text x="727.12" y="550.3" text-anchor="middle" class="t">10</text>
<text x="761.15" y="550.3" text-anchor="middle" class="t">12</text>
<text x="795.17" y="550.3" text-anchor="middle" class="t">14</text>
<text x="829.2" y="550.3" text-anchor="middle" class="t">16</text>
<text x="863.22" y="550.3" text-anchor="middle" class="t">18</text>
<text x="897.25" y="550.3" text-anchor="middle" class="t">20</text>
<text x="931.27" y="550.3" text-anchor="middle" class="t">22</text>
<text x="965.3" y="550.3" text-anchor="middle" class="t">24</text>
<text transform="translate(760.9 406.1) scale(1 1.08)" text-anchor="middle" class="st" textLength="101.7" lengthAdjust="spacingAndGlyphs">Wind Direction</text>
<text transform="translate(521.1 477.25) rotate(-90)" text-anchor="middle" class="yl" textLength="51.7" lengthAdjust="spacingAndGlyphs">degrees</text>
<text transform="translate(761.4 568.7) scale(1 1.08)" text-anchor="middle" class="st" textLength="123" lengthAdjust="spacingAndGlyphs">Local Time (hour)</text>
<path d="M586.34 418.05h2.4v2.4h-2.4zM592.1 418.05h2.4v2.4h-2.4zM556.31 425.39h2.4v2.4h-2.4zM605.02 425.39h2.4v2.4h-2.4zM633.13 425.39h2.4v2.4h-2.4zM581.63 432.72h2.4v2.4h-2.4zM583.37 432.72h2.4v2.4h-2.4zM585.12 432.72h2.4v2.4h-2.4zM589.83 432.72h2.4v2.4h-2.4zM595.07 432.72h2.4v2.4h-2.4zM596.82 432.72h2.4v2.4h-2.4zM598.56 432.72h2.4v2.4h-2.4zM601.18 432.72h2.4v2.4h-2.4zM603.28 432.72h2.4v2.4h-2.4zM606.42 432.72h2.4v2.4h-2.4zM622.13 432.72h2.4v2.4h-2.4zM640.47 432.72h2.4v2.4h-2.4zM646.58 432.72h2.4v2.4h-2.4zM648.32 432.72h2.4v2.4h-2.4zM650.07 432.72h2.4v2.4h-2.4zM651.82 432.72h2.4v2.4h-2.4zM657.93 432.72h2.4v2.4h-2.4zM580.75 440.23h2.4v2.4h-2.4zM599.09 440.23h2.4v2.4h-2.4zM607.82 440.23h2.4v2.4h-2.4zM610.78 440.23h2.4v2.4h-2.4zM612.53 440.23h2.4v2.4h-2.4zM614.28 440.23h2.4v2.4h-2.4zM616.02 440.23h2.4v2.4h-2.4zM617.77 440.23h2.4v2.4h-2.4zM619.51 440.23h2.4v2.4h-2.4zM621.26 440.23h2.4v2.4h-2.4zM623.88 440.23h2.4v2.4h-2.4zM625.63 440.23h2.4v2.4h-2.4zM627.37 440.23h2.4v2.4h-2.4zM629.12 440.23h2.4v2.4h-2.4zM630.86 440.23h2.4v2.4h-2.4zM635.23 440.23h2.4v2.4h-2.4zM638.72 440.23h2.4v2.4h-2.4zM641.34 440.23h2.4v2.4h-2.4zM643.09 440.23h2.4v2.4h-2.4zM644.83 440.23h2.4v2.4h-2.4zM648.67 440.23h2.4v2.4h-2.4zM653.21 440.23h2.4v2.4h-2.4zM657.4 440.23h2.4v2.4h-2.4zM555.26 447.21h2.4v2.4h-2.4zM563.64 447.21h2.4v2.4h-2.4zM566.26 447.21h2.4v2.4h-2.4zM570.97 447.21h2.4v2.4h-2.4zM579.36 447.21h2.4v2.4h-2.4zM609.04 447.21h2.4v2.4h-2.4zM637.5 447.21h2.4v2.4h-2.4zM653.91 447.21h2.4v2.4h-2.4zM655.66 447.21h2.4v2.4h-2.4zM561.9 454.55h2.4v2.4h-2.4zM564.17 454.55h2.4v2.4h-2.4zM566.26 454.55h2.4v2.4h-2.4zM568.88 454.55h2.4v2.4h-2.4zM570.63 454.55h2.4v2.4h-2.4zM573.24 454.55h2.4v2.4h-2.4zM574.99 454.55h2.4v2.4h-2.4zM576.74 454.55h2.4v2.4h-2.4zM578.48 454.55h2.4v2.4h-2.4zM560.67 469.21h2.4v2.4h-2.4zM559.63 498.2h2.4v2.4h-2.4zM558.05 505.18h2.4v2.4h-2.4zM588.09 519.67h2.4v2.4h-2.4zM593.67 527.18h2.4v2.4h-2.4zM631.74 534.17h2.4v2.4h-2.4zM665.67 418.05h2.4v2.4h-2.4zM691.34 418.05h2.4v2.4h-2.4zM692.56 418.05h2.4v2.4h-2.4zM726.78 418.05h2.4v2.4h-2.4zM734.99 418.05h2.4v2.4h-2.4zM760.66 425.39h2.4v2.4h-2.4zM762.4 425.39h2.4v2.4h-2.4zM658.69 432.72h2.4v2.4h-2.4zM661.13 432.72h2.4v2.4h-2.4zM666.9 432.72h2.4v2.4h-2.4zM670.91 432.72h2.4v2.4h-2.4zM672.66 432.72h2.4v2.4h-2.4zM674.75 432.72h2.4v2.4h-2.4zM685.75 432.72h2.4v2.4h-2.4zM687.5 432.72h2.4v2.4h-2.4zM689.24 432.72h2.4v2.4h-2.4zM690.47 432.72h2.4v2.4h-2.4zM694.31 432.72h2.4v2.4h-2.4zM698.85 432.72h2.4v2.4h-2.4zM702.69 432.72h2.4v2.4h-2.4zM704.43 432.72h2.4v2.4h-2.4zM762.93 432.72h2.4v2.4h-2.4zM653.8 440.23h2.4v2.4h-2.4zM657.29 440.23h2.4v2.4h-2.4zM659.04 440.23h2.4v2.4h-2.4zM660.78 440.23h2.4v2.4h-2.4zM662.53 440.23h2.4v2.4h-2.4zM664.28 440.23h2.4v2.4h-2.4zM668.64 440.23h2.4v2.4h-2.4zM673.01 440.23h2.4v2.4h-2.4zM674.75 440.23h2.4v2.4h-2.4zM676.5 440.23h2.4v2.4h-2.4zM678.24 440.23h2.4v2.4h-2.4zM679.99 440.23h2.4v2.4h-2.4zM681.74 440.23h2.4v2.4h-2.4zM684.36 440.23h2.4v2.4h-2.4zM695.36 440.23h2.4v2.4h-2.4zM697.45 440.23h2.4v2.4h-2.4zM700.07 440.23h2.4v2.4h-2.4zM701.29 440.23h2.4v2.4h-2.4zM705.31 440.23h2.4v2.4h-2.4zM654.67 447.21h2.4v2.4h-2.4zM656.42 447.21h2.4v2.4h-2.4zM669.86 447.21h2.4v2.4h-2.4zM682.61 447.21h2.4v2.4h-2.4zM742.32 447.21h2.4v2.4h-2.4zM749.48 447.21h2.4v2.4h-2.4zM707.05 454.55h2.4v2.4h-2.4zM708.28 454.55h2.4v2.4h-2.4zM709.67 454.55h2.4v2.4h-2.4zM730.97 461.88h2.4v2.4h-2.4zM728.36 469.21h2.4v2.4h-2.4zM755.07 469.21h2.4v2.4h-2.4zM715.43 476.37h2.4v2.4h-2.4zM725.39 476.37h2.4v2.4h-2.4zM711.07 483.53h2.4v2.4h-2.4zM712.82 483.53h2.4v2.4h-2.4zM714.04 483.53h2.4v2.4h-2.4zM718.4 483.53h2.4v2.4h-2.4zM723.99 490.86h2.4v2.4h-2.4zM716.66 498.2h2.4v2.4h-2.4zM719.8 498.2h2.4v2.4h-2.4zM721.55 498.2h2.4v2.4h-2.4zM722.42 505.18h2.4v2.4h-2.4zM736.74 505.18h2.4v2.4h-2.4zM738.48 505.18h2.4v2.4h-2.4zM741.1 505.18h2.4v2.4h-2.4zM745.47 505.18h2.4v2.4h-2.4zM746.69 512.34h2.4v2.4h-2.4zM748.43 512.34h2.4v2.4h-2.4zM729.4 519.67h2.4v2.4h-2.4zM732.72 519.67h2.4v2.4h-2.4zM743.72 519.67h2.4v2.4h-2.4zM750.7 519.67h2.4v2.4h-2.4zM752.45 519.67h2.4v2.4h-2.4zM753.67 519.67h2.4v2.4h-2.4zM733.77 527.18h2.4v2.4h-2.4zM739.36 527.18h2.4v2.4h-2.4zM756.82 527.18h2.4v2.4h-2.4zM758.56 527.18h2.4v2.4h-2.4zM759.78 527.18h2.4v2.4h-2.4zM766.66 418.05h2.4v2.4h-2.4zM769.28 418.05h2.4v2.4h-2.4zM773.64 418.05h2.4v2.4h-2.4zM779.4 418.05h2.4v2.4h-2.4zM784.99 418.05h2.4v2.4h-2.4zM796.34 418.05h2.4v2.4h-2.4zM817.82 418.05h2.4v2.4h-2.4zM819.91 418.05h2.4v2.4h-2.4zM822.01 418.05h2.4v2.4h-2.4zM824.28 418.05h2.4v2.4h-2.4zM828.64 418.05h2.4v2.4h-2.4zM760.55 425.39h2.4v2.4h-2.4zM762.29 425.39h2.4v2.4h-2.4zM774.51 425.39h2.4v2.4h-2.4zM776.26 425.39h2.4v2.4h-2.4zM782.02 425.39h2.4v2.4h-2.4zM803.32 425.39h2.4v2.4h-2.4zM806.29 425.39h2.4v2.4h-2.4zM763.69 432.72h2.4v2.4h-2.4zM793.37 432.72h2.4v2.4h-2.4zM794.94 432.72h2.4v2.4h-2.4zM843.13 432.72h2.4v2.4h-2.4zM847.5 432.72h2.4v2.4h-2.4zM780.63 440.23h2.4v2.4h-2.4zM841.74 440.23h2.4v2.4h-2.4zM844.36 440.23h2.4v2.4h-2.4zM857.1 440.23h2.4v2.4h-2.4zM867.05 440.23h2.4v2.4h-2.4zM834.4 447.21h2.4v2.4h-2.4zM839.99 447.21h2.4v2.4h-2.4zM848.2 447.21h2.4v2.4h-2.4zM851.34 447.21h2.4v2.4h-2.4zM858.67 447.21h2.4v2.4h-2.4zM861.82 447.21h2.4v2.4h-2.4zM863.56 447.21h2.4v2.4h-2.4zM865.31 447.21h2.4v2.4h-2.4zM867.93 447.21h2.4v2.4h-2.4zM831.78 454.55h2.4v2.4h-2.4zM833.53 454.55h2.4v2.4h-2.4zM836.5 454.55h2.4v2.4h-2.4zM838.24 454.55h2.4v2.4h-2.4zM845.75 454.55h2.4v2.4h-2.4zM849.94 454.55h2.4v2.4h-2.4zM852.21 454.55h2.4v2.4h-2.4zM853.96 454.55h2.4v2.4h-2.4zM855.7 454.55h2.4v2.4h-2.4zM860.07 454.55h2.4v2.4h-2.4zM790.58 461.88h2.4v2.4h-2.4zM814.67 461.88h2.4v2.4h-2.4zM791.97 469.21h2.4v2.4h-2.4zM816.07 469.21h2.4v2.4h-2.4zM771.9 476.37h2.4v2.4h-2.4zM777.66 483.53h2.4v2.4h-2.4zM798.96 483.53h2.4v2.4h-2.4zM801.93 483.53h2.4v2.4h-2.4zM789.01 490.86h2.4v2.4h-2.4zM800.7 490.86h2.4v2.4h-2.4zM770.67 498.2h2.4v2.4h-2.4zM783.59 498.2h2.4v2.4h-2.4zM786.74 498.2h2.4v2.4h-2.4zM787.61 498.2h2.4v2.4h-2.4zM797.56 519.67h2.4v2.4h-2.4zM804.55 519.67h2.4v2.4h-2.4zM807.69 519.67h2.4v2.4h-2.4zM759.67 527.18h2.4v2.4h-2.4zM764.91 527.18h2.4v2.4h-2.4zM767.53 527.18h2.4v2.4h-2.4zM809.09 527.18h2.4v2.4h-2.4zM810.31 527.18h2.4v2.4h-2.4zM812.05 527.18h2.4v2.4h-2.4zM813.28 527.18h2.4v2.4h-2.4zM819.04 527.18h2.4v2.4h-2.4zM821.66 527.18h2.4v2.4h-2.4zM826.02 527.18h2.4v2.4h-2.4zM827.77 527.18h2.4v2.4h-2.4zM830.39 527.18h2.4v2.4h-2.4zM890.86 418.05h2.4v2.4h-2.4zM892.09 418.05h2.4v2.4h-2.4zM912.34 418.05h2.4v2.4h-2.4zM913.56 418.05h2.4v2.4h-2.4zM916.18 418.05h2.4v2.4h-2.4zM924.91 418.05h2.4v2.4h-2.4zM934.51 418.05h2.4v2.4h-2.4zM939.23 418.05h2.4v2.4h-2.4zM900.82 425.39h2.4v2.4h-2.4zM903.96 425.39h2.4v2.4h-2.4zM909.55 425.39h2.4v2.4h-2.4zM924.04 425.39h2.4v2.4h-2.4zM926.31 425.39h2.4v2.4h-2.4zM875.67 432.72h2.4v2.4h-2.4zM877.42 432.72h2.4v2.4h-2.4zM879.17 432.72h2.4v2.4h-2.4zM880.91 432.72h2.4v2.4h-2.4zM882.66 432.72h2.4v2.4h-2.4zM885.63 432.72h2.4v2.4h-2.4zM887.37 432.72h2.4v2.4h-2.4zM889.64 432.72h2.4v2.4h-2.4zM902.56 432.72h2.4v2.4h-2.4zM905.36 432.72h2.4v2.4h-2.4zM907.1 432.72h2.4v2.4h-2.4zM909.55 432.72h2.4v2.4h-2.4zM911.29 432.72h2.4v2.4h-2.4zM914.78 432.72h2.4v2.4h-2.4zM916.53 432.72h2.4v2.4h-2.4zM918.28 432.72h2.4v2.4h-2.4zM920.02 432.72h2.4v2.4h-2.4zM922.29 432.72h2.4v2.4h-2.4zM927.53 432.72h2.4v2.4h-2.4zM929.8 432.72h2.4v2.4h-2.4zM931.55 432.72h2.4v2.4h-2.4zM933.64 432.72h2.4v2.4h-2.4zM940.63 432.72h2.4v2.4h-2.4zM943.77 432.72h2.4v2.4h-2.4zM947.96 432.72h2.4v2.4h-2.4zM958.96 432.72h2.4v2.4h-2.4zM960.18 432.72h2.4v2.4h-2.4zM866.94 440.23h2.4v2.4h-2.4zM869.91 440.23h2.4v2.4h-2.4zM871.66 440.23h2.4v2.4h-2.4zM872.88 440.23h2.4v2.4h-2.4zM884.23 440.23h2.4v2.4h-2.4zM929.28 440.23h2.4v2.4h-2.4zM942.02 440.23h2.4v2.4h-2.4zM944.12 440.23h2.4v2.4h-2.4zM946.21 440.23h2.4v2.4h-2.4zM951.97 440.23h2.4v2.4h-2.4zM954.24 440.23h2.4v2.4h-2.4zM956.34 440.23h2.4v2.4h-2.4zM958.09 440.23h2.4v2.4h-2.4zM864.67 447.21h2.4v2.4h-2.4zM866.42 447.21h2.4v2.4h-2.4zM868.69 447.21h2.4v2.4h-2.4zM874.28 447.21h2.4v2.4h-2.4zM898.37 447.21h2.4v2.4h-2.4zM899.59 447.21h2.4v2.4h-2.4zM949.01 447.21h2.4v2.4h-2.4zM950.75 447.21h2.4v2.4h-2.4zM953.72 447.21h2.4v2.4h-2.4zM894.36 527.18h2.4v2.4h-2.4zM896.1 527.18h2.4v2.4h-2.4zM936.78 527.18h2.4v2.4h-2.4zM938.01 527.18h2.4v2.4h-2.4zM961.93 527.18h2.4v2.4h-2.4z" fill="#f00"/>
</svg>
</body></html>
